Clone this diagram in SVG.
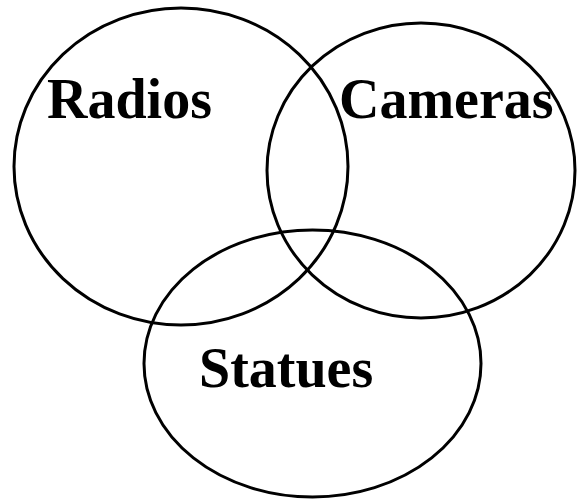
<svg xmlns="http://www.w3.org/2000/svg" width="578" height="500" viewBox="0 0 578 500">
<style>
.set{fill:none;stroke:#000;stroke-width:3}
.lbl{font-family:"Liberation Serif","Times New Roman",serif;font-weight:bold;font-size:56px;fill:#000}
</style>
<rect width="578" height="500" fill="#fff"/>
<g id="radios">
<ellipse class="set" cx="181" cy="166.5" rx="167" ry="158.5"/>
<text class="lbl" x="47" y="118">Radios</text>
</g>
<g id="cameras">
<ellipse class="set" cx="421" cy="170.5" rx="154" ry="147.5"/>
<text class="lbl" x="339" y="118">Cameras</text>
</g>
<g id="statues">
<ellipse class="set" cx="312.5" cy="363.5" rx="168.5" ry="133.5"/>
<text class="lbl" x="199" y="387">Statues</text>
</g>
<g id="connectors"/>
</svg>
